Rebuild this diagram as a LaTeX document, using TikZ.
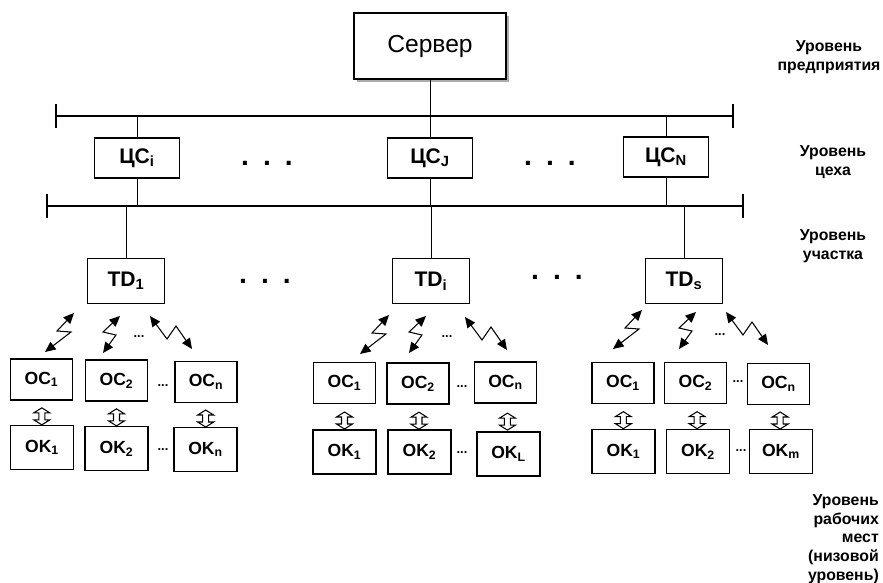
\documentclass[tikz,border=0pt]{standalone}
\usepackage{fontspec}
\setmainfont{Liberation Sans}
\usetikzlibrary{calc,shadows,arrows.meta}

\begin{document}
\begin{tikzpicture}[x=0.03cm, y=-0.03cm, line join=miter,
    srv/.style={draw, fill=white, line width=1.1pt, inner sep=0pt,
      minimum width=4.56cm, minimum height=1.98cm,
      font=\fontsize{21}{24}\selectfont,
      drop shadow={shadow xshift=2.5pt, shadow yshift=-2.5pt, fill=black!65}},
    blk/.style={draw, line width=1.3pt, inner sep=0pt,
      font=\bfseries\fontsize{18}{20}\selectfont},
    cs/.style={blk, minimum width=2.55cm, minimum height=1.2cm},
    td/.style={blk, minimum width=2.31cm, minimum height=1.35cm},
    oc/.style={blk, minimum width=1.86cm, minimum height=1.23cm,
      font=\bfseries\fontsize{15}{17}\selectfont},
    ok/.style={oc, minimum width=1.89cm, minimum height=1.32cm},
    bus/.style={line width=1.2pt},
    link/.style={line width=0.85pt},
    zap/.style={line width=0.9pt,
      {Triangle[length=9pt,width=8pt]}-{Triangle[length=9pt,width=8pt]}},
    dblarr/.pic={
      \draw[line width=0.9pt, fill=white] (0,-8.5) -- (8,-3.5) -- (3,-3.5) -- (3,3.5)
        -- (8,3.5) -- (0,8.5) -- (-8,3.5) -- (-3,3.5) -- (-3,-3.5) -- (-8,-3.5) -- cycle;
    },
    sm/.style={font=\bfseries\fontsize{11}{11}\selectfont, inner sep=0pt},
    big/.style={font=\bfseries\fontsize{24}{24}\selectfont, inner sep=0pt},
    lvl/.style={font=\bfseries\fontsize{13.5}{16}\selectfont, inner sep=0pt}]

    \useasboundingbox (0,0) rectangle (883,583);

    % Сервер и шины
    \node[srv] (srv) at (430,46) {Сервер};

    \coordinate (b1l) at (56,116);
    \coordinate (b1r) at (733,116);
    \coordinate (b2l) at (47,206);
    \coordinate (b2r) at (743,206);

    \draw[bus] (b1l) -- (b1r);
    \draw[bus] (b2l) -- (b2r);
    \foreach \b in {b1l,b1r,b2l,b2r}
        \draw[bus] (\b) ++(0,-12) -- ++(0,24);

    % Уровень цеха
    \node[cs] (cs1) at (137,158) {ЦС\textsubscript{i}};
    \node[cs] (cs2) at (430,158) {ЦС\textsubscript{J}};
    \node[cs] (cs3) at (666,157) {ЦС\textsubscript{N}};

    \node[big] (dcs1) at (267,163) {.\hspace{12pt}.\hspace{12pt}.};
    \node[big] (dcs2) at (550,163) {.\hspace{12pt}.\hspace{12pt}.};

    % Уровень участка
    \node[td] (td1) at (126,281) {TD\textsubscript{1}};
    \node[td] (td2) at (431,281) {TD\textsubscript{i}};
    \node[td] (td3) at (684,281) {TD\textsubscript{s}};

    \node[big] (dtd1) at (265,281) {.\hspace{12pt}.\hspace{12pt}.};
    \node[big] (dtd2) at (557,277) {.\hspace{12pt}.\hspace{12pt}.};

    \draw[link] (srv.south) -- (srv.south |- b1l);
    \foreach \n in {cs1,cs2,cs3}{
        \draw[link] (\n.north) -- (\n.north |- b1l);
        \draw[link] (\n.south) -- (\n.south |- b2l);
    }
    \foreach \n in {td1,td2,td3}
        \draw[link] (\n.north) -- (\n.north |- b2l);

    % Рабочие места
    \node[oc] (oc11) at (41.5,379.5) {OC\textsubscript{1}};
    \node[oc] (oc12) at (116.5,380.5) {OC\textsubscript{2}};
    \node[oc] (oc13) at (206,382) {OC\textsubscript{n}};
    \node[ok] (ok11) at (42,447.5) {OK\textsubscript{1}};
    \node[ok] (ok12) at (116.5,448.5) {OK\textsubscript{2}};
    \node[ok] (ok13) at (205.5,449.5) {OK\textsubscript{n}};

    \node[oc] (oc21) at (344.5,383) {OC\textsubscript{1}};
    \node[oc] (oc22) at (418,383.5) {OC\textsubscript{2}};
    \node[oc] (oc23) at (505.5,382.5) {OC\textsubscript{n}};
    \node[ok] (ok21) at (344.5,452) {OK\textsubscript{1}};
    \node[ok] (ok22) at (419.5,452) {OK\textsubscript{2}};
    \node[ok] (ok23) at (508.5,454) {OK\textsubscript{L}};

    \node[oc] (oc31) at (623,383) {OC\textsubscript{1}};
    \node[oc] (oc32) at (695.5,383) {OC\textsubscript{2}};
    \node[oc] (oc33) at (778.5,384) {OC\textsubscript{n}};
    \node[ok] (ok31) at (623.5,451.5) {OK\textsubscript{1}};
    \node[ok] (ok32) at (698,451.5) {OK\textsubscript{2}};
    \node[ok] (ok33) at (781,451.5) {OK\textsubscript{m}};

    \foreach \g in {1,2,3}
        \foreach \k in {1,2,3}
            \pic at ($(oc\g\k.south)!0.65!(ok\g\k.north)$) {dblarr};

    % многоточия
    \node[sm] (doc1) at (163,386) {...};
    \node[sm] (dok1) at (163,450) {...};
    \node[sm] (dzp1) at (139,337) {...};
    \node[sm] (doc2) at (462,387) {...};
    \node[sm] (dok2) at (462,453) {...};
    \node[sm] (dzp2) at (447,337) {...};
    \node[sm] (doc3) at (738,382) {...};
    \node[sm] (dok3) at (741,451) {...};
    \node[sm] (dzp3) at (720,335) {...};

    % радиоканалы
    \foreach \x/\y [count=\k] in {45/352, 360/354, 613/349}{
        \coordinate (za\k) at (\x,\y);
        \draw[zap] (za\k) -- ++(26,-20) -- ++(-14,-1) -- ++(17,-18) coordinate (zb\k);
    }
    \foreach \x/\y [count=\k] in {103/353, 409/353, 679/349}{
        \coordinate (zc\k) at (\x,\y);
        \draw[zap] (zc\k) -- ++(13,-18) -- ++(-13,-3) -- ++(17,-16) coordinate (zd\k);
    }
    \foreach \x/\y [count=\k] in {150/316, 465/317, 726/312}{
        \coordinate (ze\k) at (\x,\y);
        \draw[zap] (ze\k) -- ++(17,23) -- ++(9,-13) -- ++(16,23) coordinate (zf\k);
    }

    % Уровни
    \node[lvl, align=center] (lv1) at (829,57) {Уровень\\предприятия};
    \node[lvl, align=center] (lv2) at (833,162) {Уровень\\цеха};
    \node[lvl, align=center] (lv3) at (833,246) {Уровень\\участка};
    \node[lvl, align=right, anchor=east] (lv4) at (879,539)
        {Уровень\\рабочих\\мест\\(низовой\\уровень)};
\end{tikzpicture}
\end{document}
